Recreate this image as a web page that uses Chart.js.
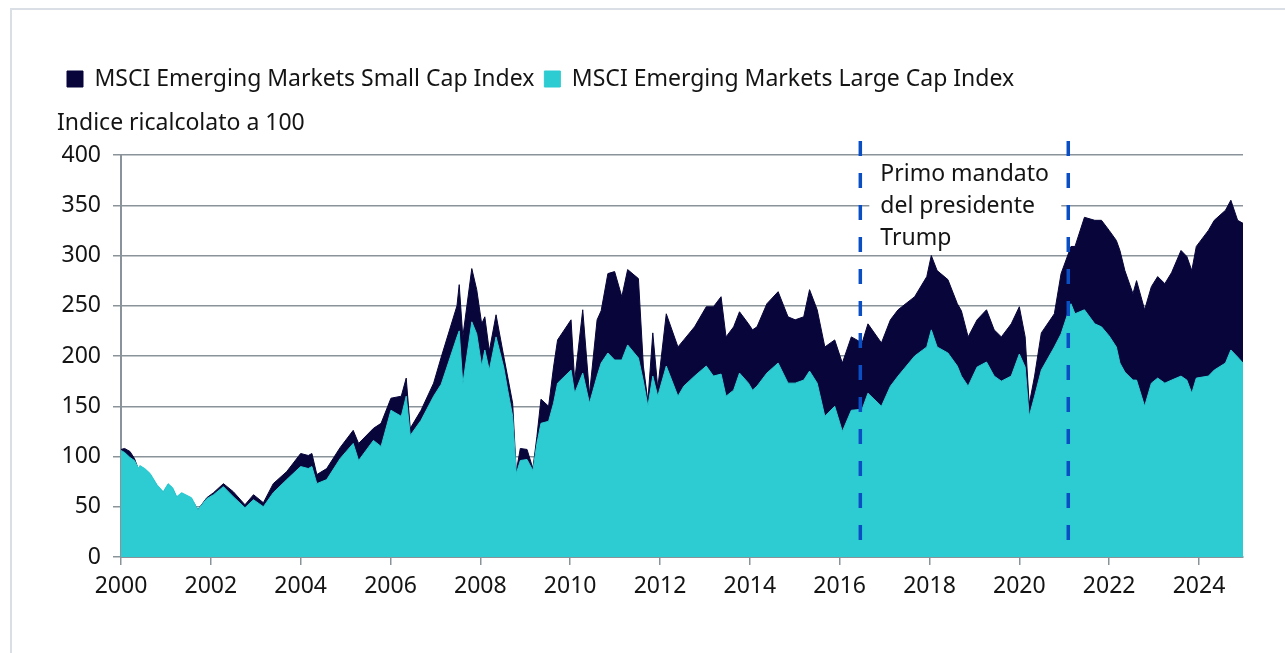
<!DOCTYPE html>
<html>
<head>
<meta charset="utf-8">
<script src="https://cdn.jsdelivr.net/npm/chart.js@4.4.1/dist/chart.umd.min.js"></script>
<style>
  body { margin: 0; background: #fff; }
  #frame { position: absolute; left: 10px; top: 8px; width: 1300px; height: 700px;
           border-left: 2px solid #d9dfe5; border-top: 2px solid #d9dfe5; }
  #wrap { position: absolute; left: 0; top: 0; width: 1285px; height: 653px; }
</style>
</head>
<body>
<div id="frame"></div>
<div id="wrap"><canvas id="chart"></canvas></div>
<script>
'use strict';

// dates as decimal years, index values rebased to 100
const dates = [
    2000.00, 2000.08, 2000.20, 2000.30, 2000.39, 2000.42, 2000.53, 2000.65, 2000.80, 2000.94,
    2001.05, 2001.15, 2001.24, 2001.35, 2001.57, 2001.71, 2001.91, 2002.06, 2002.28, 2002.50,
    2002.76, 2002.95, 2003.17, 2003.39, 2003.69, 2004.00, 2004.17, 2004.25, 2004.36, 2004.58,
    2004.88, 2005.17, 2005.29, 2005.62, 2005.79, 2006.01, 2006.24, 2006.35, 2006.44, 2006.68,
    2006.96, 2007.13, 2007.48, 2007.53, 2007.61, 2007.81, 2007.92, 2008.03, 2008.10, 2008.20,
    2008.35, 2008.52, 2008.61, 2008.72, 2008.80, 2008.89, 2009.04, 2009.17, 2009.26, 2009.35,
    2009.52, 2009.63, 2009.72, 2010.02, 2010.10, 2010.28, 2010.43, 2010.60, 2010.69, 2010.84,
    2010.99, 2011.15, 2011.28, 2011.52, 2011.63, 2011.73, 2011.84, 2011.95, 2012.14, 2012.40,
    2012.53, 2012.77, 2013.03, 2013.19, 2013.36, 2013.47, 2013.64, 2013.77, 2013.97, 2014.06,
    2014.16, 2014.38, 2014.63, 2014.85, 2015.01, 2015.20, 2015.33, 2015.50, 2015.67, 2015.89,
    2016.06, 2016.26, 2016.50, 2016.63, 2016.93, 2017.13, 2017.30, 2017.67, 2017.94, 2018.04,
    2018.17, 2018.41, 2018.62, 2018.71, 2018.86, 2019.06, 2019.27, 2019.44, 2019.60, 2019.82,
    2020.00, 2020.13, 2020.22, 2020.34, 2020.49, 2020.78, 2020.93, 2021.15, 2021.24, 2021.45,
    2021.68, 2021.83, 2022.00, 2022.16, 2022.24, 2022.35, 2022.53, 2022.61, 2022.79, 2022.94,
    2023.08, 2023.24, 2023.39, 2023.60, 2023.73, 2023.84, 2023.94, 2024.21, 2024.34, 2024.59,
    2024.71, 2024.86, 2024.98
];

const smallCap = [
    107, 108, 105, 98, 87, 90, 87, 82, 71, 64,
    72, 68, 59, 63, 58, 47, 59, 64, 73, 65,
    52, 62, 54, 73, 85, 103, 101, 103, 82, 88,
    109, 126, 113, 128, 133, 158, 160, 178, 128, 146,
    173, 199, 250, 271, 219, 287, 266, 232, 239, 205,
    241, 200, 179, 153, 85, 108, 107, 88, 120, 157,
    150, 189, 216, 236, 175, 246, 162, 236, 245, 282,
    284, 259, 286, 277, 190, 155, 223, 168, 242, 209,
    216, 229, 249, 249, 259, 219, 229, 244, 232, 226,
    229, 252, 264, 239, 236, 239, 266, 246, 209, 216,
    193, 219, 213, 232, 213, 236, 246, 259, 279, 300,
    285, 276, 252, 245, 219, 236, 246, 226, 219, 232,
    249, 219, 152, 180, 223, 242, 282, 309, 309, 338,
    335, 335, 325, 315, 305, 285, 262, 275, 246, 269,
    279, 272, 283, 305, 299, 285, 309, 325, 335, 345,
    355, 335, 332
];

const largeCap = [
    106, 104, 99, 96, 88, 91, 88, 83, 72, 65,
    73, 69, 60, 64, 59, 47, 58, 62, 70, 60,
    49, 57, 50, 64, 77, 90, 88, 90, 73, 77,
    98, 113, 96, 116, 110, 146, 140, 160, 121, 136,
    160, 172, 219, 225, 172, 234, 222, 190, 206, 186,
    219, 189, 166, 140, 83, 96, 97, 86, 113, 133,
    135, 153, 173, 186, 163, 183, 153, 180, 193, 203,
    196, 196, 211, 198, 175, 150, 180, 160, 190, 160,
    170, 180, 190, 180, 182, 160, 166, 183, 173, 166,
    170, 183, 193, 173, 173, 176, 185, 173, 140, 150,
    125, 146, 147, 163, 150, 170, 180, 200, 209, 226,
    209, 203, 190, 180, 170, 189, 194, 180, 175, 180,
    202, 189, 140, 160, 186, 209, 222, 252, 242, 246,
    232, 229, 220, 209, 193, 184, 176, 176, 150, 173,
    178, 173, 176, 180, 176, 163, 178, 180, 186, 193,
    206, 199, 193
];

const yearTicks = [2000, 2002, 2004, 2006, 2008, 2010, 2012, 2014, 2016, 2018, 2020, 2022, 2024];
const termStart = 2016.46;
const termEnd = 2021.09;
const noteLines = ['Primo mandato', 'del presidente', 'Trump'];

const navy = '#07053a';
const cyan = '#2dcbd2';
const gridColor = '#8a9399';
const textColor = '#141414';
const fontFamily = '"Noto Sans", Lato, sans-serif';
const fontSize = 23;

function toPoints(values) {
    return dates.map((d, i) => ({x: d, y: values[i]}));
}

// white label box, text and the two dashed markers for the first Trump term
const termPlugin = {
    id: 'termMarkers',
    afterDatasetsDraw(chart) {
        const {ctx, chartArea, scales} = chart;
        const x1 = scales.x.getPixelForValue(termStart);
        const x2 = scales.x.getPixelForValue(termEnd);
        ctx.save();
        ctx.fillStyle = '#ffffff';
        ctx.fillRect(x1 + 9, chartArea.top + 3, x2 - x1 - 16, 92);

        ctx.fillStyle = textColor;
        ctx.font = fontSize + 'px ' + fontFamily;
        ctx.textAlign = 'left';
        ctx.textBaseline = 'middle';
        noteLines.forEach((line, i) => {
            ctx.fillText(line, x1 + 20, chartArea.top + 19 + i * 32);
        });

        ctx.strokeStyle = '#0a4ec4';
        ctx.lineWidth = 3.5;
        ctx.setLineDash([15, 17]);
        [x1, x2].forEach(px => {
            ctx.beginPath();
            ctx.moveTo(px, chartArea.top - 14);
            ctx.lineTo(px, chartArea.bottom);
            ctx.stroke();
        });
        ctx.restore();
    }
};

const ctx = document.getElementById('chart').getContext('2d');
new Chart(ctx, {
    type: 'line',
    data: {
        datasets: [{
            label: 'MSCI Emerging Markets Small Cap Index',
            data: toPoints(smallCap),
            backgroundColor: navy,
            borderColor: navy,
            borderWidth: 1,
            fill: 'origin',
            pointRadius: 0,
            order: 2
        }, {
            label: 'MSCI Emerging Markets Large Cap Index',
            data: toPoints(largeCap),
            backgroundColor: cyan,
            borderColor: cyan,
            borderWidth: 1,
            fill: 'origin',
            pointRadius: 0,
            order: 1
        }]
    },
    options: {
        responsive: true,
        maintainAspectRatio: false,
        animation: false,
        layout: {padding: {top: 57.5, left: 57, right: 42, bottom: 0}},
        plugins: {
            legend: {
                position: 'top',
                align: 'start',
                labels: {
                    boxWidth: 16,
                    boxHeight: 16,
                    padding: 10,
                    color: textColor,
                    font: {family: fontFamily, size: fontSize},
                    sort: (a, b) => a.datasetIndex - b.datasetIndex
                }
            },
            title: {
                display: true,
                text: 'Indice ricalcolato a 100',
                align: 'start',
                position: 'top',
                weight: 500,
                color: textColor,
                font: {family: fontFamily, size: fontSize, weight: 'normal'},
                padding: {top: 8.7, bottom: 18.2}
            },
            tooltip: {enabled: false}
        },
        scales: {
            x: {
                type: 'linear',
                min: 2000,
                max: 2024.98,
                afterBuildTicks: scale => {
                    scale.ticks = yearTicks.map(v => ({value: v}));
                },
                afterFit: scale => { scale.height = 96; },
                ticks: {
                    color: textColor,
                    font: {family: fontFamily, size: fontSize},
                    padding: 8,
                    maxRotation: 0,
                    autoSkip: false,
                    callback: value => String(value)
                },
                grid: {drawOnChartArea: false, drawTicks: true, tickLength: 8, color: gridColor, lineWidth: 1.5},
                border: {color: gridColor, width: 2}
            },
            y: {
                min: 0,
                max: 400,
                afterFit: scale => { scale.width = 64; },
                ticks: {
                    stepSize: 50,
                    color: textColor,
                    font: {family: fontFamily, size: fontSize},
                    padding: 12
                },
                grid: {color: gridColor, lineWidth: 1.5, tickLength: 8},
                border: {color: gridColor, width: 2}
            }
        }
    },
    plugins: [termPlugin]
});
</script>
</body>
</html>
